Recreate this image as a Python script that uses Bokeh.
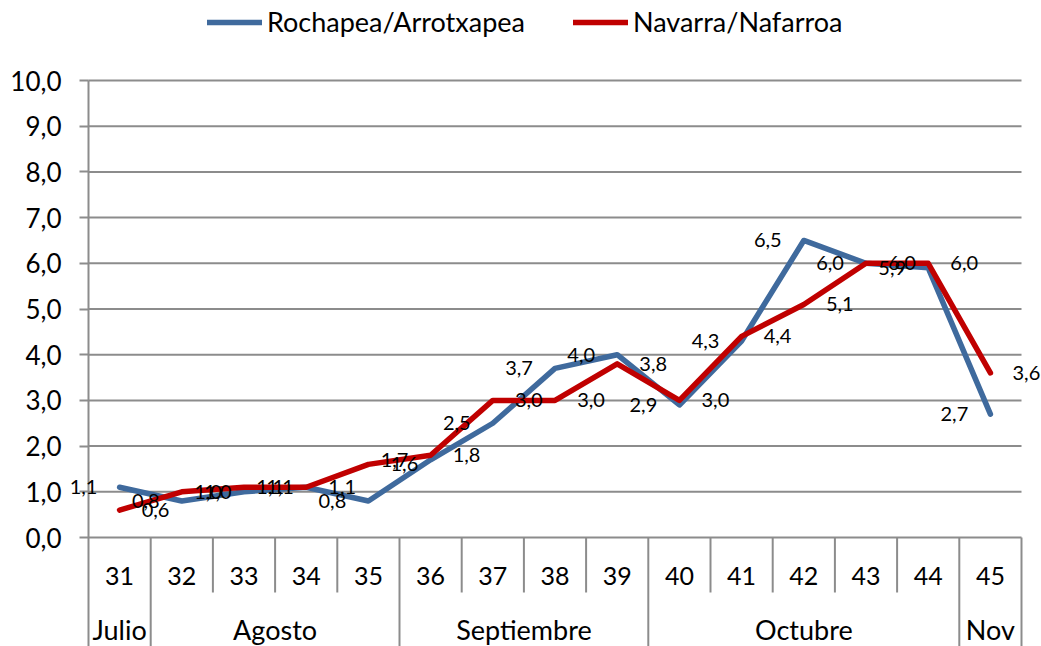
from bokeh.plotting import figure
from bokeh.models import (Range1d, FixedTicker, CustomJSTickFormatter, Legend, LegendItem,
                          ColumnDataSource, LabelSet)
from bokeh.core.properties import value
from bokeh.embed import file_html
from bokeh.resources import INLINE

# ---- data ----
weeks = ["31", "32", "33", "34", "35", "36", "37", "38", "39", "40", "41", "42", "43", "44", "45"]
months = ["Julio", "Agosto", "Agosto", "Agosto", "Agosto",
          "Septiembre", "Septiembre", "Septiembre", "Septiembre",
          "Octubre", "Octubre", "Octubre", "Octubre", "Octubre", "Nov"]
rochapea = [1.1, 0.8, 1.0, 1.1, 0.8, 1.7, 2.5, 3.7, 4.0, 2.9, 4.3, 6.5, 6.0, 5.9, 2.7]
navarra = [0.6, 1.0, 1.1, 1.1, 1.6, 1.8, 3.0, 3.0, 3.8, 3.0, 4.4, 5.1, 6.0, 6.0, 3.6]
y_ticks = [0, 1, 2, 3, 4, 5, 6, 7, 8, 9, 10]
series_names = ["Rochapea/Arrotxapea", "Navarra/Nafarroa"]
series_colors = ["#3F6A9D", "#C00000"]

FONT = "Lato"
GRID = "#8C8C8C"

W, H = 1041, 646
# layout (screen px): value 0 at y=537, value 10 at y=80; categories from x=88 to x=1021
px_per_unit = 45.7
cat_w = (1021 - 88) / 15
y_top = 10 + 80 / px_per_unit
y_bottom = -(H - 537) / px_per_unit
week_row_y = -(575 - 537) / px_per_unit
week_sep_y = -(592 - 537) / px_per_unit
month_row_y = -(629 - 537) / px_per_unit

n = len(weeks)
xs = list(range(n))
x_left = -0.5 - 88 / cat_w
x_right = n - 0.5 + (W - 1021) / cat_w

p = figure(width=W, height=H, output_backend="svg", toolbar_location=None,
           x_range=Range1d(x_left, x_right), y_range=Range1d(y_bottom, y_top),
           x_axis_location=None, min_border_left=0, min_border_right=0,
           min_border_top=0, min_border_bottom=0)
p.outline_line_color = None
p.xgrid.visible = False
p.ygrid.visible = False

# y axis, pinned at the left edge of the category area
ax = p.yaxis[0]
ax.fixed_location = -0.5
ax.ticker = FixedTicker(ticks=y_ticks)
ax.formatter = CustomJSTickFormatter(code="return tick.toFixed(1).replace('.', ',');")
ax.bounds = (y_bottom, 10)
ax.axis_line_color = GRID
ax.axis_line_width = 2
ax.major_tick_line_color = GRID
ax.major_tick_line_width = 2
ax.major_tick_out = 9
ax.major_tick_in = 0
ax.minor_tick_line_color = None
ax.major_label_standoff = 18
ax.major_label_text_font = FONT
ax.major_label_text_font_size = "26px"
ax.major_label_text_color = "black"

# horizontal gridlines across the category area
p.segment(x0=[-0.5] * len(y_ticks), y0=y_ticks, x1=[n - 0.5] * len(y_ticks), y1=y_ticks,
          line_color=GRID, line_width=2)

# category table separators
sx, sy0, sy1 = [], [], []
for i in range(n):
    last = (i == n - 1)
    full = last or months[i] != months[i + 1]
    sx.append(i + 0.5)
    sy0.append(0)
    sy1.append(y_bottom if full else week_sep_y)
p.segment(x0=sx, y0=sy0, x1=sx, y1=sy1, line_color=GRID, line_width=2)

# week labels
p.text(x=xs, y=[week_row_y] * n, text=weeks, text_align="center", text_baseline="middle",
       text_font=value(FONT), text_font_size="25px", text_color="black")

# month labels
groups = []
for i, m in enumerate(months):
    if groups and groups[-1][0] == m:
        groups[-1][2] = i
    else:
        groups.append([m, i, i])
mx = [(g[1] + g[2]) / 2 for g in groups]
p.text(x=mx, y=[month_row_y] * len(groups), text=[g[0] for g in groups],
       text_align="center", text_baseline="middle",
       text_font=value(FONT), text_font_size="27px", text_color="black")

# series
r1 = p.line(xs, rochapea, line_color=series_colors[0], line_width=5.5,
            line_join="round", line_cap="round")
r2 = p.line(xs, navarra, line_color=series_colors[1], line_width=5.5,
            line_join="round", line_cap="round")

def fmt(v):
    return f"{v:.1f}".replace(".", ",")

src1 = ColumnDataSource(dict(x=xs, y=rochapea, t=[fmt(v) for v in rochapea]))
src2 = ColumnDataSource(dict(x=xs, y=navarra, t=[fmt(v) for v in navarra]))
p.add_layout(LabelSet(x="x", y="y", text="t", source=src1, x_offset=-36,
                      text_align="center", text_baseline="middle",
                      text_font=value(FONT), text_font_size="20px", text_color="black"))
p.add_layout(LabelSet(x="x", y="y", text="t", source=src2, x_offset=36,
                      text_align="center", text_baseline="middle",
                      text_font=value(FONT), text_font_size="20px", text_color="black"))

legend = Legend(items=[LegendItem(label=series_names[0], renderers=[r1]),
                       LegendItem(label=series_names[1], renderers=[r2])],
                orientation="horizontal", location=(207, 608),
                glyph_width=55, glyph_height=20, label_standoff=5, spacing=48,
                padding=0, margin=0, border_line_color=None, background_fill_alpha=0,
                label_text_font=FONT, label_text_font_size="27px", label_text_color="black")
p.add_layout(legend)

open("out.html", "w").write(file_html(p, INLINE))
